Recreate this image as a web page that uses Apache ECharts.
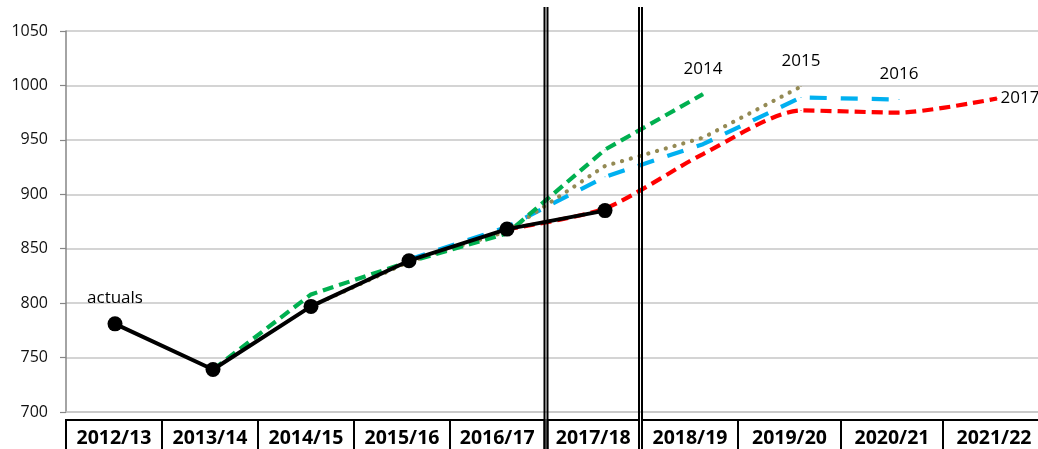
<!DOCTYPE html>
<html>
<head>
<meta charset="utf-8">
<script src="https://cdn.jsdelivr.net/npm/echarts@6/dist/echarts.min.js"></script>
<style>
html,body{margin:0;padding:0;background:#fff;}
#chart{width:1038px;height:449px;}
</style>
</head>
<body>
<div id="chart"></div>
<script>
// ---- data ----
const categories = ['2012/13','2013/14','2014/15','2015/16','2016/17','2017/18','2018/19','2019/20','2020/21','2021/22'];
const actuals      = [781, 739, 797, 839, 868, 885, null, null, null, null];
const forecast2014 = [null, 739, 808, 838, 864, 941, 992, null, null, null];
const forecast2015 = [null, null, 797, 838, 866, 926, 952, 999, null, null];
const forecast2016 = [null, null, null, 840, 870, 916, 946, 989, 987, null];
const forecast2017 = [null, null, null, null, 868, 887, 937, 977, 975, 988];
const yMin = 700, yMax = 1050, yStep = 50;

// ---- layout helpers (not data) ----
const cellWidths = [96, 96, 96, 96, 94.5, 91.5, 96, 103, 102, 102];
const cellShift  = [1, 3, 5, 7, 9.75, 11.75, 13, 11.5, 7, 3];
const FONT = 'Open Sans';

const rich = {};
categories.forEach((c, i) => {
  rich['c' + i] = {
    width: cellWidths[i], height: 37, lineHeight: 37, align: 'center', verticalAlign: 'middle',
    borderColor: '#000', borderWidth: 2, fontWeight: 'bold', fontSize: 19.5,
    fontFamily: FONT, color: '#000'
  };
  rich['s' + i] = { width: 2 * cellShift[i], height: 37, lineHeight: 37, align: 'center' };
});

function lastIndex(arr) {
  for (let i = arr.length - 1; i >= 0; i--) if (arr[i] != null) return i;
  return -1;
}
function firstIndex(arr) {
  for (let i = 0; i < arr.length; i++) if (arr[i] != null) return i;
  return -1;
}

function forecastSeries(name, data, color, dash, width, cap, labelPos, labelDist, smooth, z) {
  const li = lastIndex(data);
  return {
    name: name, type: 'line', data: data, z: z,
    smooth: smooth, connectNulls: false,
    symbol: 'circle', symbolSize: 1, showSymbol: true, showAllSymbol: true,
    itemStyle: { color: color },
    lineStyle: { color: color, width: width, type: dash, cap: cap },
    label: {
      show: true, position: labelPos, distance: labelDist,
      fontFamily: FONT, fontSize: 17, color: '#000',
      formatter: p => p.dataIndex === li ? name : ''
    },
    emphasis: { disabled: true },
    animation: false
  };
}

const chart = echarts.init(document.getElementById('chart'), null, { renderer: 'canvas' });
const option = {
  animation: false,
  backgroundColor: '#fff',
  grid: { left: 66, top: 31, width: 980, bottom: 37, containLabel: false, outerBoundsMode: 'none' },
  xAxis: {
    type: 'category', data: categories, boundaryGap: true,
    axisLine: { show: true, lineStyle: { color: '#c6c6c6', width: 1.5 } },
    axisTick: { show: false },
    splitLine: { show: false },
    axisLabel: {
      interval: 0, margin: 8, hideOverlap: false,
      formatter: (v, i) => '{c' + i + '|' + v + '}{s' + i + '|}',
      rich: rich
    }
  },
  yAxis: {
    type: 'value', min: yMin, max: yMax, interval: yStep,
    axisLine: { show: true, lineStyle: { color: '#868686', width: 1.5 } },
    axisTick: { show: true, length: 6, lineStyle: { color: '#868686', width: 1.2 } },
    splitLine: { show: true, lineStyle: { color: '#c6c6c6', width: 1.5 } },
    axisLabel: { margin: 18, fontFamily: FONT, fontSize: 16, color: '#111', formatter: v => String(v) }
  },
  series: [
    forecastSeries('2017', forecast2017, '#ff0000', [11, 6], 4.2, 'butt', 'right', 3, 0.25, 2),
    forecastSeries('2016', forecast2016, '#00b0f0', [17, 14], 4.2, 'butt', 'top', 16, false, 3),
    forecastSeries('2015', forecast2015, '#948a54', [0.1, 9], 4.2, 'round', 'top', 16, false, 4),
    forecastSeries('2014', forecast2014, '#00b050', [11, 6], 4.2, 'butt', 'top', 16, false, 5),
    {
      name: 'actuals', type: 'line', data: actuals, z: 10,
      symbol: 'circle', symbolSize: 15, showSymbol: true, showAllSymbol: true,
      itemStyle: { color: '#000' },
      lineStyle: { color: '#000', width: 4 },
      label: {
        show: true, position: 'top', distance: 10,
        fontFamily: FONT, fontSize: 17, color: '#000',
        formatter: p => p.dataIndex === firstIndex(actuals) ? 'actuals' : ''
      },
      emphasis: { disabled: true },
      animation: false
    }
  ],
  graphic: [
    { type: 'line', z: 100, shape: { x1: 544.5, y1: 7, x2: 544.5, y2: 449 }, style: { stroke: '#000', lineWidth: 2 } },
    { type: 'line', z: 100, shape: { x1: 547.5, y1: 7, x2: 547.5, y2: 449 }, style: { stroke: '#000', lineWidth: 2 } },
    { type: 'line', z: 100, shape: { x1: 639, y1: 7, x2: 639, y2: 449 }, style: { stroke: '#000', lineWidth: 2 } },
    { type: 'line', z: 100, shape: { x1: 642, y1: 7, x2: 642, y2: 449 }, style: { stroke: '#000', lineWidth: 2 } }
  ]
};
chart.setOption(option);
</script>
</body>
</html>
